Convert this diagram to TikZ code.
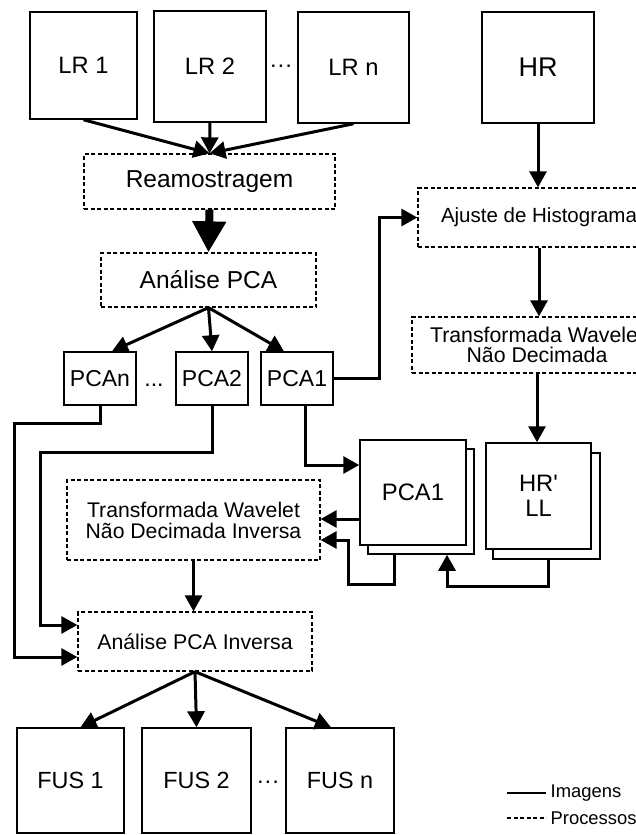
\documentclass[tikz,border=0pt]{standalone}
\usepackage{fontspec}
\setmainfont{Liberation Sans}[Ligatures=TeXOff]
\usetikzlibrary{arrows.meta,calc}
\begin{document}
\begin{tikzpicture}[x=1pt,y=-1pt,
  img/.style={draw, line width=1.5pt, fill=white, inner sep=0pt, align=center},
  proc/.style={draw, line width=1.3pt, dash pattern=on 4pt off 2.5pt, inner sep=0pt, align=center},
  conn/.style={line width=3pt, -{Triangle[length=16pt,width=17pt]}},
  fs/.style={font=\fontsize{#1}{#1}\selectfont},
]
\clip (0,0) rectangle (636,835);
% images top
\node[img, minimum width=107pt, minimum height=107pt, fs=23.7] (lr1) at (83.5,65.5) {LR 1};
\node[img, minimum width=112pt, minimum height=111pt, fs=23.7] (lr2) at (210,66.5) {LR 2};
\node[img, minimum width=111pt, minimum height=111pt, fs=23.7] (lrn) at (353.5,67.5) {LR n};
\node[img, minimum width=112pt, minimum height=111pt, fs=27] (hr) at (538,67.5) {HR};
\node[fs=23, anchor=base, inner sep=0pt] (dots1) at (281,72) {···};
% processes
\node[proc, minimum width=251pt, minimum height=55pt, fs=24.5] (ream) at (209.5,181.5) {Reamostragem};
\node[proc, minimum width=215pt, minimum height=54pt, fs=24.5] (apca) at (208.5,280) {Análise PCA};
\node[proc, minimum width=242pt, minimum height=59pt, fs=20.5] (ajus) at (539,217.5) {Ajuste de Histograma};
\node[proc, minimum width=250pt, minimum height=56pt, font=\fontsize{21.3}{20.5}\selectfont] (twnd) at (537,345) {Transformada Wavelet\\Não Decimada};
% PCA components
\node[img, minimum width=72pt, minimum height=53pt, fs=23] (pcan) at (100,378.5) {PCAn};
\node[img, minimum width=72pt, minimum height=53pt, fs=23] (pca2) at (212,378.5) {PCA2};
\node[img, minimum width=72pt, minimum height=53pt, fs=23] (pca1) at (297,378.5) {PCA1};
\node[fs=23, anchor=base, inner sep=0pt] (dots2) at (154,386) {...};
% stacks
\node[img, minimum width=106pt, minimum height=105pt] (pcab) at (421,501.5) {};
\node[img, minimum width=106pt, minimum height=105pt, fs=23.8] (pcaf) at (413,492.5) {PCA1};
\node[img, minimum width=107pt, minimum height=106pt] (hrb) at (546.5,506) {};
\node[img, minimum width=105pt, minimum height=106pt, font=\fontsize{23.8}{24.5}\selectfont] (hrf) at (538.5,496) {HR'\\LL};
% inverse processes
\node[proc, minimum width=253pt, minimum height=80pt, font=\fontsize{21.2}{21}\selectfont] (twndi) at (193.5,520) {Transformada Wavelet\\Não Decimada Inversa};
\node[proc, minimum width=234pt, minimum height=59pt, fs=21.3] (apcai) at (195,641.5) {Análise PCA Inversa};
% outputs
\node[img, minimum width=107pt, minimum height=105pt, fs=23.4] (fus1) at (70.5,780.5) {FUS 1};
\node[img, minimum width=109pt, minimum height=105pt, fs=23.4] (fus2) at (196.5,780.5) {FUS 2};
\node[img, minimum width=108pt, minimum height=105pt, fs=23.4] (fusn) at (340,780.5) {FUS n};
\node[fs=23, anchor=base, inner sep=0pt] (dots3) at (268,788) {···};
% connectors
\draw[conn] (lr1.south) -- (ream.north);
\draw[conn] (lr2.south) -- (ream.north);
\draw[conn] (lrn.south) -- (ream.north);
\draw[line width=8pt, -{Triangle[length=31pt,width=32pt]}] (ream.south) -- (apca.north);
\draw[conn] (apca.south) -- ([xshift=12pt]pcan.north);
\draw[conn] (apca.south) -- (pca2.north);
\draw[conn] (apca.south) -- ([xshift=-13pt]pca1.north);
\draw[conn] (pca1.east) -| ([xshift=-38pt]ajus.west) -- (ajus.west);
\draw[conn] (hr.south) -- (hr.south |- ajus.north);
\draw[conn] (ajus.south) -- (ajus.south |- twnd.north);
\draw[conn] (twnd.south) -- (twnd.south |- hrf.north);
\draw[conn] (pcan.south) -- ++(0,18) -| ([xshift=-63pt,yshift=-15.5pt]apcai.west) -- ([yshift=-15.5pt]apcai.west);
\draw[conn] (pca2.south) -- ++(0,47) -| ([xshift=-37pt,yshift=16.5pt]apcai.west) -- ([yshift=16.5pt]apcai.west);
\draw[conn] ([xshift=8pt]pca1.south) |- ([yshift=27.5pt]pcaf.west);
\draw[conn] ([yshift=-26.5pt]pcaf.west) -- ([yshift=-26.5pt]pcaf.west -| twndi.east);
\draw[conn] ([xshift=-27pt]pcab.south) -- ++(0,30) -| ([xshift=28pt,yshift=-20pt]twndi.east) -- ([yshift=-20pt]twndi.east);
\draw[conn] ([xshift=1.5pt]hrb.south) -- ++(0,27) -| ([xshift=26pt]pcab.south);
\draw[conn] (twndi.south) -- (twndi.south |- apcai.north);
\draw[conn] (apcai.south) -- ([xshift=10pt]fus1.north);
\draw[conn] (apcai.south) -- (fus2.north);
\draw[conn] (apcai.south) -- ([xshift=-9pt]fusn.north);
% legend
\coordinate (l1a) at (507,793);
\coordinate (l1b) at (546,793);
\coordinate (l2a) at (507,818);
\coordinate (l2b) at (546,818);
\draw[line width=1.3pt] (l1a) -- (l1b) node[anchor=west, inner sep=0pt, xshift=4pt, fs=18.4] (limg) {Imagens};
\draw[line width=1.3pt, dash pattern=on 4pt off 2.5pt] (l2a) -- (l2b) node[anchor=west, inner sep=0pt, xshift=4pt, fs=18.4] (lproc) {Processos};
\end{tikzpicture}
\end{document}
